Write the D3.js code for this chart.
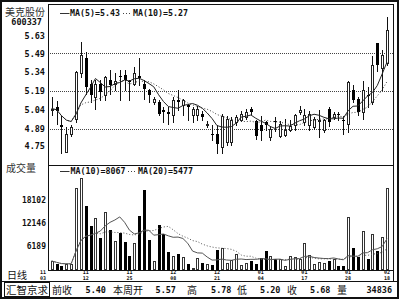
<!DOCTYPE html>
<html>
<head>
<meta charset="utf-8">
<script src="https://cdn.jsdelivr.net/npm/d3@7"></script>
<style>
body { margin: 0; background: #fff; }
svg { display: block; }
</style>
</head>
<body>
<svg></svg>
<script>
// 日线数据 (70 个交易日)
let opens  = [5.04,5.06,4.92,4.70,4.85,4.97,5.33,5.45,5.25,5.14, 5.25,5.16,5.28,5.25,5.31,5.32,5.27,5.25,5.31,5.25,
              5.20,5.10,5.10,5.04,5.02,5.00,5.12,5.08,5.08,5.00, 5.00,5.01,4.92,4.85,4.85,4.74,4.78,4.78,4.94,4.96,
              4.98,5.05,4.95,4.92,4.94,4.82,4.95,4.83,4.84,4.88, 4.92,5.02,4.94,4.92,4.90,4.95,4.88,5.05,4.98,5.01,
              4.96,4.93,5.20,5.13,5.02,5.16,5.10,5.57,5.37,5.41];
let highs  = [5.14,5.11,4.99,4.90,4.92,5.35,5.58,5.50,5.28,5.28, 5.28,5.31,5.36,5.33,5.36,5.36,5.28,5.38,5.45,5.28,
              5.21,5.14,5.12,5.06,5.06,5.14,5.20,5.13,5.09,5.06, 5.07,5.03,4.95,4.92,4.92,5.01,4.99,4.98,5.00,5.03,
              5.05,5.06,4.96,4.99,4.95,4.91,4.98,4.95,4.97,4.96, 5.01,5.07,5.05,5.03,4.98,5.04,4.97,5.06,5.02,5.02,
              4.99,5.27,5.24,5.14,5.27,5.22,5.47,5.57,5.52,5.78];
let lows   = [5.00,4.93,4.69,4.70,4.83,4.94,5.30,5.17,5.10,5.05, 5.12,5.12,5.17,5.20,5.12,5.20,5.12,5.24,5.24,5.13,
              5.10,5.09,5.00,4.94,4.93,4.94,5.04,5.00,4.96,4.94, 4.96,4.96,4.90,4.80,4.69,4.69,4.76,4.76,4.92,4.95,
              4.97,5.01,4.81,4.80,4.88,4.80,4.87,4.82,4.83,4.87, 4.88,5.01,4.92,4.88,4.89,4.82,4.86,4.91,4.97,4.96,
              4.85,4.86,5.10,5.00,4.97,5.06,5.09,5.35,5.20,5.40];
let closes = [5.05,5.03,4.90,4.85,4.90,5.34,5.48,5.22,5.16,5.25, 5.18,5.30,5.24,5.27,5.30,5.28,5.26,5.33,5.29,5.21,
              5.16,5.13,5.01,5.02,5.01,5.12,5.10,5.12,5.06,5.05, 5.05,4.98,4.93,4.84,4.77,4.99,4.97,4.96,4.98,5.01,
              5.02,5.02,4.83,4.87,4.92,4.89,4.94,4.93,4.88,4.91, 5.00,5.04,5.00,5.01,4.97,4.96,4.96,4.94,5.01,5.00,
              4.95,5.26,5.12,5.02,5.20,5.15,5.40,5.40,5.48,5.68];
let volumes = [2216,1512,912,1355,1355,21324,23931,16632,11418,13503, 8133,14911,10297,7430,9437,7247,3519,6830,14025,20725,
               7690,2216,11600,9176,4640,3519,4040,3180,1434,400, 3076,1616,1434,1173,5083,5683,1616,2477,4040,1173,
               1564,2216,1434,2920,4875,3389,2737,2607,990,3597, 3128,2815,6987,3650,1355,1903,1694,2216,2737,965,
               965,13608,5683,3337,9958,2737,9176,4823,8551,21324];

// 刻度
let priceTicks = [5.63, 5.49, 5.34, 5.19, 5.04, 4.89, 4.75];
let priceGrid = [5.49, 5.19, 4.89];
let volTicks = [18102, 12146, 6189];
let dateIdx = [0, 7, 16, 25, 34, 43, 52, 61, 69];
let dateMonth = ["11","11","11","12","12","01","01","01","02"];
let dateDay = ["03","12","25","08","21","04","17","28","18"];

// 图例与状态栏文字
let priceLegend = ["MA(5)=5.43", "MA(10)=5.27"];
let volLegend = ["MA(10)=8067", "MA(20)=5477"];
let statusLabels = ["前收", "本周开", "高", "低", "收", "量"];
let statusValues = ["5.40", "5.57", "5.78", "5.20", "5.68", "34836"];

let svgWidth = 400;
let svgHeight = 300;
let plotLeft = 48, plotRight = 393.5, plotTop = 4, panelSep = 165, plotBottom = 270;
let mono = "'DejaVu Sans Mono', monospace";
let cjk = "'Noto Sans CJK SC', sans-serif";

let svg = d3.select('svg')
	.attr("width", svgWidth)
	.attr("height", svgHeight);

let n = closes.length;
let x = d3.scaleLinear().domain([0, n - 1]).range([51.7, 387]);
let y = d3.scaleLinear().domain([4.75, 5.63]).range([146, 36]);
let yv = d3.scaleLinear().domain([0, 18102]).range([269.5, 200]);

// 移动平均 (前几天用已有的天数)
function movingAvg(arr, len) {
	return arr.map(function (d, i) {
		return d3.mean(arr.slice(Math.max(0, i - len + 1), i + 1));
	});
}
let ma5 = movingAvg(closes, 5);
let ma10 = movingAvg(closes, 10);
let vma10 = movingAvg(volumes, 10);
let vma20 = movingAvg(volumes, 20);

let idx = d3.range(n);
let px = function (i) { return Math.round(x(i)); };
let up = function (i) { return closes[i] >= opens[i]; };

// 边框
svg.append("rect").attr("x", 1).attr("y", 1).attr("width", 397).attr("height", 297)
	.attr("fill", "none").attr("stroke", "#111").attr("stroke-width", 2);

// 网格线
svg.selectAll(".grid").data(priceGrid).enter().append("line")
	.attr("x1", plotLeft).attr("x2", plotRight)
	.attr("y1", function (d) { return Math.round(y(d)) + 0.5; })
	.attr("y2", function (d) { return Math.round(y(d)) + 0.5; })
	.attr("stroke", "#444").attr("stroke-dasharray", "1,1");

// K线
let candles = svg.append("g");
candles.selectAll("line").data(idx).enter().append("line")
	.attr("x1", function (i) { return px(i) + 0.5; })
	.attr("x2", function (i) { return px(i) + 0.5; })
	.attr("y1", function (i) { return Math.round(y(highs[i])); })
	.attr("y2", function (i) { return Math.round(y(lows[i])) + 1; })
	.attr("stroke", "#111");

candles.selectAll("rect").data(idx).enter().append("rect")
	.attr("x", function (i) { return up(i) ? px(i) - 0.5 : px(i) - 1; })
	.attr("y", function (i) {
		let t = Math.round(y(Math.max(opens[i], closes[i])));
		return up(i) ? t + 0.5 : t;
	})
	.attr("width", function (i) { return up(i) ? 2 : 3; })
	.attr("height", function (i) {
		let t = Math.round(y(Math.max(opens[i], closes[i])));
		let b = Math.round(y(Math.min(opens[i], closes[i])));
		return up(i) ? Math.max(b - t, 0) : Math.max(b - t, 1);
	})
	.attr("fill", function (i) { return up(i) ? "#fff" : "#000"; })
	.attr("stroke", function (i) { return up(i) ? "#222" : "none"; });

// 均线
let priceLine = d3.line().x(function (d, i) { return x(i); }).y(function (d) { return y(d); });
svg.append("path").attr("d", priceLine(ma10)).attr("fill", "none")
	.attr("stroke", "#444").attr("stroke-dasharray", "1,2");
svg.append("path").attr("d", priceLine(ma5)).attr("fill", "none")
	.attr("stroke", "#222");

// 成交量柱
let vbars = svg.append("g");
vbars.selectAll("rect").data(idx).enter().append("rect")
	.attr("x", function (i) { return up(i) ? px(i) - 0.5 : px(i) - 1; })
	.attr("y", function (i) { return up(i) ? Math.round(yv(volumes[i])) + 0.5 : Math.round(yv(volumes[i])); })
	.attr("width", function (i) { return up(i) ? 2 : 3; })
	.attr("height", function (i) { return Math.max(plotBottom - Math.round(yv(volumes[i])) - (up(i) ? 1 : 0), 1); })
	.attr("fill", function (i) { return up(i) ? "#fff" : "#000"; })
	.attr("stroke", function (i) { return up(i) ? "#333" : "none"; });

let volLine = d3.line().x(function (d, i) { return x(i); }).y(function (d) { return yv(d); });
svg.append("path").attr("d", volLine(vma20)).attr("fill", "none")
	.attr("stroke", "#555").attr("stroke-dasharray", "1,2");
svg.append("path").attr("d", volLine(vma10)).attr("fill", "none")
	.attr("stroke", "#555");

// 框线
let frame = svg.append("g").attr("stroke", "#111").attr("stroke-width", 1);
frame.append("line").attr("x1", plotLeft + 0.5).attr("x2", plotLeft + 0.5).attr("y1", plotTop).attr("y2", plotBottom);
frame.append("line").attr("x1", plotRight).attr("x2", plotRight).attr("y1", plotTop).attr("y2", 281);
frame.append("line").attr("x1", plotLeft).attr("x2", plotRight).attr("y1", plotTop + 0.5).attr("y2", plotTop + 0.5);
frame.append("line").attr("x1", plotLeft).attr("x2", plotRight).attr("y1", panelSep + 0.5).attr("y2", panelSep + 0.5);
frame.append("line").attr("x1", plotLeft).attr("x2", plotRight).attr("y1", plotBottom + 0.5).attr("y2", plotBottom + 0.5);
frame.append("line").attr("x1", 0).attr("x2", 398).attr("y1", 281.5).attr("y2", 281.5);

// 纵轴标签
svg.selectAll(".ptick").data(priceTicks).enter().append("text")
	.text(function (d) { return d.toFixed(2); })
	.attr("x", 45).attr("y", function (d) { return y(d) + 3; })
	.attr("text-anchor", "end").attr("font-family", mono).attr("font-weight", "bold")
	.attr("font-size", 8.5).attr("fill", "#111");

svg.selectAll(".vtick").data(volTicks).enter().append("text")
	.text(function (d) { return d; })
	.attr("x", 46).attr("y", function (d) { return yv(d) + 3; })
	.attr("text-anchor", "end").attr("font-family", mono).attr("font-weight", "bold")
	.attr("font-size", 8).attr("fill", "#111");

// 日期 (月/日两行)
let dates = svg.selectAll(".date").data(dateIdx).enter().append("g")
	.attr("transform", function (d, k) {
		let cx = k === 0 ? plotLeft - 5 : x(d);
		return "translate(" + cx + ",0)";
	});
dates.append("text").text(function (d, k) { return dateMonth[k]; })
	.attr("y", 274.3).attr("text-anchor", "middle").attr("font-family", mono)
	.attr("font-weight", "bold").attr("font-size", 5).attr("fill", "#111");
dates.append("text").text(function (d, k) { return dateDay[k]; })
	.attr("y", 280.3).attr("text-anchor", "middle").attr("font-family", mono)
	.attr("font-weight", "bold").attr("font-size", 5).attr("fill", "#111");

// 左侧标题
svg.append("text").text("美克股份").attr("x", 5).attr("y", 15.5)
	.attr("font-family", cjk).attr("font-size", 10).attr("fill", "#333");
svg.append("text").text("600337").attr("x", 42).attr("y", 25)
	.attr("text-anchor", "end").attr("font-family", mono).attr("font-weight", "bold")
	.attr("font-size", 8.5).attr("fill", "#111");
svg.append("text").text("成交量").attr("x", 6).attr("y", 171.5)
	.attr("font-family", cjk).attr("font-size", 10).attr("fill", "#333");
svg.append("text").text("日线").attr("x", 7).attr("y", 279)
	.attr("font-family", cjk).attr("font-size", 10).attr("fill", "#111");

// 图例
function legend(yPos, labels, xs) {
	svg.append("line").attr("x1", 60).attr("x2", 69.5).attr("y1", yPos + 0.5).attr("y2", yPos + 0.5)
		.attr("stroke", "#333");
	svg.append("line").attr("x1", xs[1] - 10).attr("x2", xs[1] - 1).attr("y1", yPos + 0.5).attr("y2", yPos + 0.5)
		.attr("stroke", "#444").attr("stroke-dasharray", "1,2");
	labels.forEach(function (t, k) {
		svg.append("text").text(t).attr("x", xs[k]).attr("y", yPos + 3)
			.attr("font-family", mono).attr("font-weight", "bold").attr("font-size", 8.3).attr("fill", "#111");
	});
}
legend(13, priceLegend, [70, 133]);
legend(171, volLegend, [70.5, 138]);

// 状态栏
svg.append("rect").attr("x", 4.5).attr("y", 282.5).attr("width", 45).attr("height", 14)
	.attr("fill", "none").attr("stroke", "#111");
svg.append("text").text("汇智京求").attr("x", 6).attr("y", 293.5)
	.attr("font-family", cjk).attr("font-size", 10.5).attr("fill", "#111");

let labelX = [52, 113, 187, 237, 287, 337];
let valueX = [106, 176, 231.5, 280.5, 330.5, 392];
svg.selectAll(".slabel").data(statusLabels).enter().append("text")
	.text(function (d) { return d; })
	.attr("x", function (d, k) { return labelX[k]; }).attr("y", 293.5)
	.attr("font-family", cjk).attr("font-size", 10).attr("fill", "#111");
svg.selectAll(".svalue").data(statusValues).enter().append("text")
	.text(function (d) { return d; })
	.attr("x", function (d, k) { return valueX[k]; }).attr("y", 293)
	.attr("text-anchor", "end").attr("font-family", mono).attr("font-weight", "bold")
	.attr("font-size", 8.5).attr("fill", "#111");
</script>
</body>
</html>
